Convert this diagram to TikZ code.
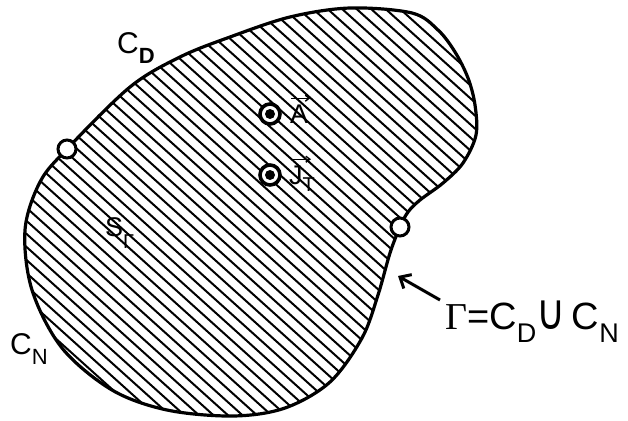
\documentclass[tikz,border=0pt]{standalone}
\usepackage{fontspec}
\setmainfont{Liberation Sans}
\newfontfamily\serifg{Liberation Serif}
\newfontfamily\dejavu{DejaVu Sans}
\usetikzlibrary{arrows.meta}
\begin{document}
\begin{tikzpicture}[x=1pt,y=-1pt,
  txt/.style={inner sep=0pt, anchor=base west},
  port/.style={circle, draw, fill=white, line width=3pt, minimum size=18pt, inner sep=0pt},
  srcmark/.style={circle, draw, fill=white, line width=3.6pt, minimum size=20pt, inner sep=0pt},
  hatch/.style={line width=2pt},
  border/.style={line width=3.2pt, line join=round}]
\useasboundingbox (0,0) rectangle (628,420);
\path[save path=\region] plot[smooth cycle, tension=0.55] coordinates {
 (67,149) (130,87) (180,57) (230,37) (290,17) (350,8) (412,13) (438,30) (455,52) (468,78) (475,105)
 (476,135) (463,163) (443,183) (420,200) (408,212) (400,227) (390,253) (378,295)
 (362,338) (330,382) (285,408) (233,416) (167,410) (112,390) (62,348) (32,290)
 (25,230) (40,182)};
\begin{scope}
 \clip[use path=\region];
 \foreach \x in {-520,-505.5,...,490} { \draw[hatch] (\x,-10) -- ++(500,450); }
\end{scope}
\draw[border, use path=\region];
\node[port] (pl) at (67,149) {};
\node[port] (pr) at (400,227) {};
% source symbols
\node[srcmark] (sa) at (270,114) {};
\fill (sa.center) circle (5pt);
\node[srcmark] (sj) at (270,175) {};
\fill (sj.center) circle (5pt);
\node[txt, font=\fontsize{27}{28}\selectfont] (A) at (290,123) {A};
\draw[line width=1.4pt, -{Straight Barb[length=4pt, width=6pt]}] ([xshift=1pt,yshift=6pt]A.north west) -- ([xshift=2pt,yshift=6pt]A.north east);
\node[txt, font=\fontsize{27}{28}\selectfont] (J) at (289,184) {J\raisebox{-7pt}{\fontsize{20}{20}\selectfont T}};
\draw[line width=1.4pt, -{Straight Barb[length=4pt, width=6pt]}] ([xshift=3pt,yshift=6pt]J.north west) -- ([xshift=22pt,yshift=6pt]J.north west);
% labels
\node[txt, font=\fontsize{30}{30}\selectfont] (cd) at (117,53) {C\raisebox{-10pt}{\fontsize{22}{22}\selectfont\bfseries D}};
\node[txt, font=\fontsize{30}{30}\selectfont] (cn) at (10,354) {C\raisebox{-10pt}{\fontsize{22}{22}\selectfont N}};
\node[txt, font=\fontsize{27}{28}\selectfont] (s) at (105,236) {S\raisebox{-12pt}{\fontsize{20}{20}\selectfont Γ}};
\node[txt, font=\fontsize{38}{40}\selectfont] (gam) at (445,329) {{\serifg Γ}=C\raisebox{-13pt}{\fontsize{27}{27}\selectfont D}{\dejavu\scalebox{1.05}[1.3]{∪}}\,C\raisebox{-13pt}{\fontsize{27}{27}\selectfont N}};
\coordinate (tail) at (440,300);
\coordinate (tip) at (398,276);
\draw[line width=3pt, -{Straight Barb[length=9pt, width=16pt, line width=3pt]}] (tail) -- (tip);
\end{tikzpicture}
\end{document}
